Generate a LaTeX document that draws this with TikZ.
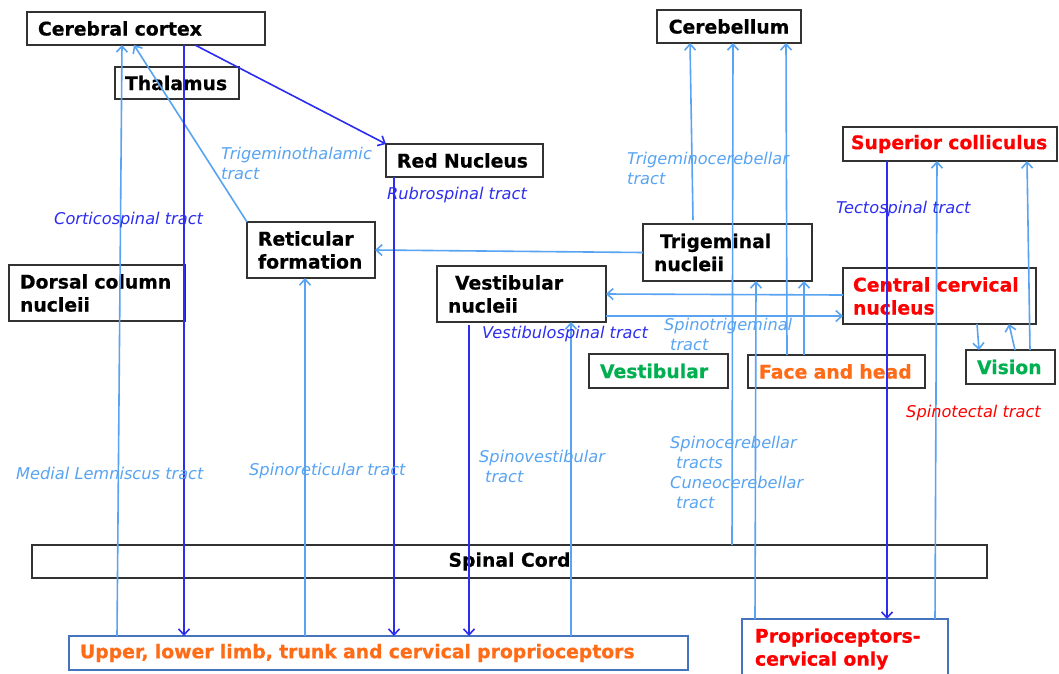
\documentclass[tikz,border=0pt]{standalone}
\usepackage{fontspec}
\setmainfont{DejaVu Sans}[BoldFeatures={FakeBold=0.6}]
\usetikzlibrary{arrows.meta}

\definecolor{tractlight}{RGB}{88,164,242}
\definecolor{tractdark}{RGB}{45,45,240}
\definecolor{boxline}{RGB}{50,50,50}
\definecolor{sensorline}{RGB}{70,115,190}
\definecolor{hotred}{RGB}{255,0,0}
\definecolor{senseorange}{RGB}{255,108,24}
\definecolor{sensegreen}{RGB}{0,176,80}

\newcommand\boxfont{\fontsize{18.8}{23}\selectfont\bfseries}
\newcommand\tractfont{\fontsize{16.2}{20}\selectfont\itshape}

\begin{document}
\begin{tikzpicture}[x=1pt,y=-1pt,
  region/.style={draw=boxline, line width=1.3pt, anchor=north west, inner ysep=0pt,
                 outer sep=0pt, font=\boxfont, align=left},
  sensor/.style={region, draw=sensorline},
  tract/.style={line width=1.6pt, -{Straight Barb[length=6pt,width=11pt]}},
  tractname/.style={anchor=west, inner sep=0pt, font=\tractfont, align=left}]

\useasboundingbox (0,0) rectangle (1059,673);
\fill[white] (0,0) rectangle (1059,673);
\clip (0,0) rectangle (1059,673);

% ---------- structures ----------
\node[region, inner xsep=11pt, text width=216pt, minimum height=33pt] (cc) at (27,12) {Cerebral cortex};
\node[region, inner xsep=10pt, text width=104pt, minimum height=32pt] (th) at (115,67) {Thalamus};
\node[region, align=center, minimum width=144pt, minimum height=33pt] (cb) at (657,10) {Cerebellum};
\node[region, inner xsep=11pt, text width=135pt, minimum height=33pt] (rn) at (386,144) {Red Nucleus};
\node[region, text=hotred, inner xsep=8pt, text width=198pt, minimum height=34pt] (sc) at (843,127) {Superior colliculus};
\node[region, inner xsep=11pt, text width=106pt, minimum height=56pt] (rf) at (247,222) {Reticular\\formation};
\node[region, inner xsep=11pt, text width=147pt, minimum height=57pt] (tn) at (643,224) {\hspace*{6pt}Trigeminal\\nucleii};
\node[region, inner xsep=11pt, text width=154pt, minimum height=56pt] (dc) at (9,265) {Dorsal column\\nucleii};
\node[region, inner xsep=11pt, text width=147pt, minimum height=56pt] (vn) at (437,266) {\hspace*{7pt}Vestibular\\nucleii};
\node[region, text=hotred, inner xsep=10pt, text width=173pt, minimum height=56pt] (ccn) at (843,268) {Central cervical\\nucleus};
\node[region, text=sensegreen, inner xsep=11pt, text width=117pt, minimum height=34pt] (vs) at (589,354) {Vestibular};
\node[region, text=senseorange, inner xsep=11pt, text width=155pt, minimum height=33pt] (fh) at (748,355) {Face and head};
\node[region, text=sensegreen, inner xsep=11pt, text width=67pt, minimum height=34pt] (vi) at (966,350) {Vision};
\node[region, align=center, minimum width=955pt, minimum height=33pt] (sp) at (32,545) {Spinal Cord};
\node[sensor, text=senseorange, inner xsep=11pt, text width=597pt, minimum height=34pt] (ul) at (69,636) {Upper, lower limb, trunk and cervical proprioceptors};
\node[sensor, text=hotred, inner xsep=13pt, text width=180pt, minimum height=60pt] (pc) at (742,619) {Proprioceptors-\\cervical only};

% ---------- ascending (sensory) tracts ----------
\begin{scope}[color=tractlight]
  \draw[tract] ([xshift=48pt]ul.north west) -- ([xshift=95pt]cc.south west);   % medial lemniscus
  \draw[tract] (rf.north west) -- ([xshift=107pt]cc.south west);                % trigeminothalamic
  \draw[tract] ([xshift=236pt]ul.north west) -- ([xshift=58pt]rf.south west);   % spinoreticular
  \draw[tract] (tn.west) -- (rf.east);
  \draw[tract] ([xshift=502pt]ul.north west) -- ([xshift=134pt]vn.south west);  % spinovestibular
  \draw[tract] ([yshift=-27pt]ccn.north west) -- ([yshift=-28pt]vn.north east);
  \draw[tract] ([yshift=-50pt]vn.north east) -- ([yshift=-48pt]ccn.north west); % spinotrigeminal
  \draw[tract] ([xshift=50pt,yshift=4pt]tn.north west) -- ([xshift=33pt]cb.south west); % trigeminocerebellar
  \draw[tract] ([xshift=700pt]sp.north west) -- ([xshift=76pt]cb.south west);   % spinocerebellar
  \draw[tract] ([xshift=39pt]fh.north west) -- ([xshift=129pt]cb.south west);
  \draw[tract] ([xshift=56pt]fh.north west) -- ([xshift=161pt]tn.south west);
  \draw[tract] ([xshift=13pt]pc.north west) -- ([xshift=113pt]tn.south west);
  \draw[tract] ([xshift=193pt]pc.north west) -- ([xshift=94pt]sc.south west);   % spinotectal
  \draw[tract] ([xshift=64pt]vi.north west) -- ([xshift=184pt]sc.south west);
  \draw[tract] ([xshift=134pt]ccn.south west) -- ([xshift=13pt]vi.north west);
  \draw[tract] ([xshift=49pt]vi.north west) -- ([xshift=166pt]ccn.south west);
\end{scope}

% ---------- descending (motor) tracts ----------
\begin{scope}[color=tractdark]
  \draw[tract] ([xshift=157pt]cc.south west) -- ([xshift=115pt]ul.north west);  % corticospinal
  \draw[tract] ([xshift=168pt]cc.south west) -- (rn.north west);
  \draw[tract] ([xshift=8pt]rn.south west) -- ([xshift=325pt]ul.north west);    % rubrospinal
  \draw[tract] ([xshift=32pt,yshift=-3pt]vn.south west) -- ([xshift=400pt]ul.north west); % vestibulospinal
  \draw[tract] ([xshift=44pt]sc.south west) -- ([xshift=145pt]pc.north west);   % tectospinal
\end{scope}

% ---------- tract names ----------
\node[tractname, text=tractlight] (nTT) at (221,163) {Trigeminothalamic\\tract};
\node[tractname, text=tractdark] (nCS) at (54,220) {Corticospinal tract};
\node[tractname, text=tractdark] (nRS) at (387,195) {Rubrospinal tract};
\node[tractname, text=tractlight] (nTC) at (627,168) {Trigeminocerebellar\\tract};
\node[tractname, text=tractdark] (nTS) at (836,209) {Tectospinal tract};
\node[tractname, text=tractdark] (nVS) at (482,334) {Vestibulospinal tract};
\node[tractname, text=tractlight] (nST) at (664,334) {Spinotrigeminal\\\hspace*{6pt}tract};
\node[tractname, text=hotred] (nSTe) at (906,413) {Spinotectal tract};
\node[tractname, text=tractlight] (nML) at (16,473) {Medial Lemniscus tract};
\node[tractname, text=tractlight] (nSR) at (249,471) {Spinoreticular tract};
\node[tractname, text=tractlight] (nSV) at (479,466) {Spinovestibular\\\hspace*{6pt}tract};
\node[tractname, text=tractlight] (nSC) at (670,472) {Spinocerebellar\\\hspace*{6pt}tracts\\Cuneocerebellar\\\hspace*{6pt}tract};

\end{tikzpicture}
\end{document}
